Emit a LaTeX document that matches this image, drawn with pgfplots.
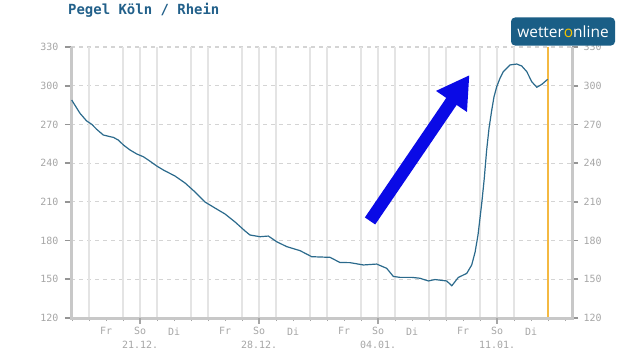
\documentclass[border=0pt]{standalone}
\usepackage{pgfplots}
\pgfplotsset{compat=1.18}
\usepackage{fontspec}
\setmainfont{DejaVu Sans}
\setmonofont{DejaVu Sans Mono}
\newfontfamily\logofont{Open Sans}
\usetikzlibrary{arrows.meta}
\definecolor{linecol}{HTML}{2B6A8C}
\definecolor{titlecol}{HTML}{22608A}
\definecolor{tickgray}{HTML}{A6A6A6}
\definecolor{axgray}{HTML}{C8C8C8}
\definecolor{gridgray}{HTML}{E4E4E4}
\definecolor{dashgray}{HTML}{D4D4D4}
\definecolor{orangeline}{HTML}{F4B942}
\definecolor{arrowblue}{HTML}{0A0AE6}
\definecolor{logoblue}{HTML}{1A5E86}
\definecolor{logoyellow}{HTML}{F2C200}

\pgfplotstableread{
d v
-4.02 288.9
-3.53 278.6
-3.14 272.7
-2.84 270.1
-2.55 266.2
-2.16 261.8
-1.76 260.5
-1.57 260.0
-1.28 257.9
-0.98 254.1
-0.59 250.2
-0.19 247.1
0.19 245.0
0.49 242.4
0.98 237.8
1.37 234.7
2.06 230.0
2.65 224.6
3.24 217.6
3.82 209.9
4.41 205.2
5.00 200.6
5.59 194.4
6.18 187.4
6.47 184.3
7.06 183.0
7.55 183.5
8.04 179.1
8.63 175.3
9.41 172.2
10.10 167.5
11.18 167.0
11.76 163.0
12.35 162.9
13.14 161.1
13.92 161.8
14.51 158.5
14.90 152.2
15.29 151.5
15.98 151.5
16.47 150.8
16.96 148.7
17.35 149.8
18.04 148.7
18.34 145.0
18.72 151.4
19.22 154.6
19.51 161.1
19.71 171.1
19.88 184.3
20.10 208.9
20.24 226.9
20.39 250.2
20.53 267.2
20.69 281.2
20.82 291.3
20.98 299.2
21.18 306.0
21.37 310.9
21.76 316.1
22.16 316.8
22.45 315.3
22.75 310.9
23.04 303.1
23.34 298.8
23.64 301.1
23.98 305.0
}\pegel

\begin{document}
\begin{tikzpicture}[x=1bp,y=1bp]
\useasboundingbox (0,0) rectangle (632,355);
\node[anchor=base west, text=titlecol, font=\fontsize{14}{16}\selectfont\ttfamily\bfseries, inner sep=0] at (68,341) {Pegel Köln / Rhein};
\begin{axis}[
  at={(71bp,37bp)}, anchor=south west, scale only axis,
  width=501bp, height=271bp,
  xmin=-4.06, xmax=25.41, ymin=120, ymax=330,
  clip=false,
  axis line style={draw=none},
  tick align=outside,
  xtick pos=left, ytick pos=both,
  major tick length=6bp, minor tick length=3bp,
  ytick={120,150,...,330},
  ymajorgrids,
  major grid style={dashgray, dash pattern=on 4bp off 4bp, line width=1.2bp},
  ytick style={color=tickgray!90!black, line width=1.6bp},
  xtick={-2,0,2,5,7,9,12,14,16,19,21,23},
  xticklabels={Fr,{So\\21.12.},Di,Fr,{So\\28.12.},Di,Fr,{So\\04.01.},Di,Fr,{So\\11.01.},Di},
  minor xtick={-4,-3,...,25},
  every major x tick/.append style={draw=none},
  every minor x tick/.append style={color=tickgray, line width=1bp},
  /pgf/number format/assume math mode=true,
  tick label style={font=\fontsize{10}{14}\selectfont\ttfamily, text=tickgray},
  yticklabel style={xshift=-3bp},
  xticklabel style={align=center, anchor=north},
]
\pgfplotsinvokeforeach{-3,-1,0,1,3,4,6,7,8,10,11,13,14,15,17,18,20,21,22}{
  \draw[gridgray, line width=1.3bp] (axis cs:#1,120) -- (axis cs:#1,330);
}
\draw[orangeline, line width=2bp] (axis cs:24,120) -- (axis cs:24,330);
\draw[axgray, line width=3bp] (axis cs:-4.06,330) -- (axis cs:-4.06,120) -- (axis cs:25.41,120) -- (axis cs:25.41,330);
\pgfplotsinvokeforeach{0,7,14,21}{
  \draw[tickgray, line width=2bp] (axis cs:#1,120) -- ([yshift=-6bp]axis cs:#1,120);
}
\addplot[linecol, line width=1.2bp] table[x=d, y=v] {\pegel};
\draw[arrowblue, line width=12.5bp, -{Triangle[width=35bp, length=32bp]}] (axis cs:13.53,195.2) -- (axis cs:19.38,308.3);
\end{axis}
\begin{axis}[
  at={(71bp,37bp)}, anchor=south west, scale only axis,
  width=501bp, height=271bp,
  xmin=-4.06, xmax=25.41, ymin=120, ymax=330,
  axis line style={draw=none},
  xtick=\empty,
  ytick={120,150,...,330},
  ytick pos=right, yticklabel pos=right,
  tick align=outside, major tick length=6bp,
  ytick style={draw=none},
  /pgf/number format/assume math mode=true,
  tick label style={font=\fontsize{10}{14}\selectfont\ttfamily, text=tickgray},
  yticklabel style={xshift=2bp},
]
\end{axis}
\node[fill=logoblue, rounded corners=4bp, minimum width=104bp, minimum height=28bp, inner sep=0] at (563,323.5) {\logofont\fontsize{15.5}{16}\selectfont\color{white}wetter{\color{logoyellow}o}nline};
\end{tikzpicture}
\end{document}
